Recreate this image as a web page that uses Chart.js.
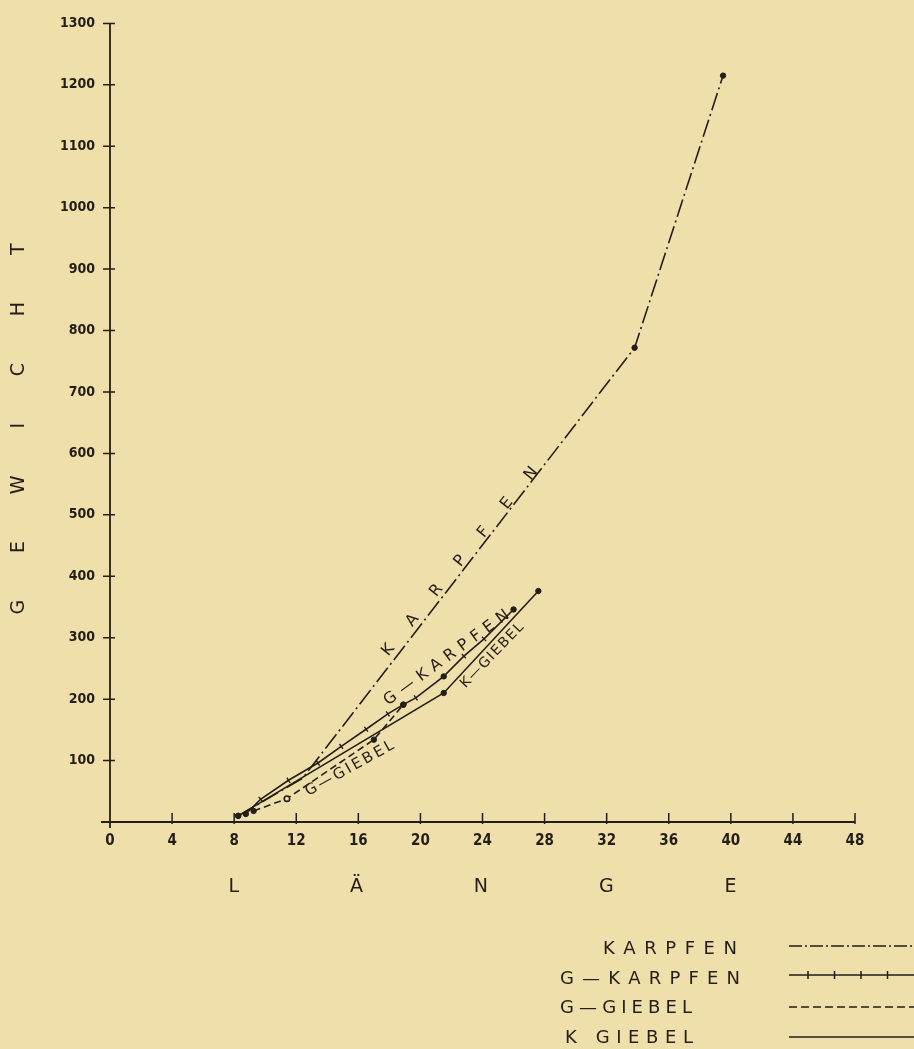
<!DOCTYPE html>
<html>
<head>
<meta charset="utf-8">
<script src="https://cdn.jsdelivr.net/npm/chart.js@4.4.1/dist/chart.umd.min.js"></script>
<style>
html,body{margin:0;padding:0;background:#efdfaa;}
#wrap{width:914px;height:1049px;position:relative;}
</style>
</head>
<body>
<div id="wrap"><canvas id="c" width="914" height="1049"></canvas></div>
<script>
// ---- data ----
const xTicks = [0, 4, 8, 12, 16, 20, 24, 28, 32, 36, 40, 44, 48];
const yTicks = [100, 200, 300, 400, 500, 600, 700, 800, 900, 1000, 1100, 1200, 1300];
const seriesNames = ['KARPFEN', 'G—KARPFEN', 'G—GIEBEL', 'K GIEBEL'];

const karpfenX = [8.26, 12.4, 33.8, 39.5];
const karpfenY = [10, 71, 772, 1215];

const gKarpfenX = [8.75, 9.7, 11.5, 13.4, 14.9, 16.5, 17.9, 18.9, 19.7, 21.5, 22.8, 24.1, 26.0];
const gKarpfenY = [13, 37, 68, 96, 123, 151, 176, 191, 202, 237, 270, 298, 346];

const gGiebelX = [9.25, 11.4, 17.0, 18.9];
const gGiebelY = [18, 38, 134, 191];

const kGiebelX = [8.26, 21.5, 27.6];
const kGiebelY = [10, 210, 376];

const xTitle = 'LÄNGE';
const yTitle = 'GEWICHT';

// ---- styling ----
const BG = '#efdfaa';
const INK = '#231e18';
const FONT = "'DejaVu Sans', sans-serif";
const NUMFONT = "'DejaVu Sans Condensed', 'DejaVu Sans', sans-serif";

const toPts = (xs, ys) => xs.map((x, i) => ({x: x, y: ys[i]}));
const gKarpfenDots = [0, 7, 9, 12];

function trackText(ctx, text, cx, cy, angleDeg, span, font) {
  ctx.save();
  ctx.font = font;
  ctx.translate(cx, cy);
  ctx.rotate(angleDeg * Math.PI / 180);
  const chars = Array.from(text);
  const ws = chars.map(ch => ctx.measureText(ch).width);
  const sum = ws.reduce((a, b) => a + b, 0);
  const W = span + (ws[0] + ws[ws.length - 1]) / 2;
  const s = chars.length > 1 ? (W - sum) / (chars.length - 1) : 0;
  let x = -W / 2;
  ctx.textAlign = 'left';
  ctx.textBaseline = 'middle';
  chars.forEach((ch, i) => { ctx.fillText(ch, x, 0); x += ws[i] + s; });
  ctx.restore();
}
function trackLeft(ctx, text, x1, x2, y, font) {
  ctx.save();
  ctx.font = font;
  const chars = Array.from(text);
  const ws = chars.map(ch => ctx.measureText(ch).width);
  const sum = ws.reduce((a, b) => a + b, 0);
  const s = (x2 - x1 - sum) / (chars.length - 1);
  let x = x1;
  ctx.textAlign = 'left';
  ctx.textBaseline = 'middle';
  chars.forEach((ch, i) => { ctx.fillText(ch, x, y); x += ws[i] + s; });
  ctx.restore();
}

// curve labels: centre in data units, angle/span in pixels
const curveLabels = [
  {text: 'KARPFEN',   x: 22.55, y: 424, angle: -51, span: 227, size: 16},
  {text: 'G—KARPFEN', x: 21.69, y: 267, angle: -36, span: 139, size: 16},
  {text: 'K—GIEBEL',  x: 24.63, y: 271, angle: -46, span: 76,  size: 14},
  {text: 'G—GIEBEL',  x: 15.44, y: 87,  angle: -29, span: 89,  size: 15}
];

const bgPlugin = {
  id: 'bg',
  beforeDraw(chart) {
    const c = chart.ctx;
    c.save(); c.fillStyle = BG; c.fillRect(0, 0, chart.width, chart.height); c.restore();
  }
};

const axesPlugin = {
  id: 'axesDraw',
  beforeDatasetsDraw(chart) {
    const {ctx} = chart; const xs = chart.scales.x, ys = chart.scales.y;
    const x0 = xs.getPixelForValue(0), y0 = ys.getPixelForValue(0);
    const yTop = ys.getPixelForValue(yTicks[yTicks.length - 1]);
    const xEnd = xs.getPixelForValue(xTicks[xTicks.length - 1]);
    ctx.save();
    ctx.strokeStyle = INK; ctx.lineWidth = 1.8;
    ctx.beginPath();
    ctx.moveTo(x0, y0 + 6); ctx.lineTo(x0, yTop);
    ctx.moveTo(x0 - 9, y0); ctx.lineTo(xEnd, y0);
    ctx.stroke();
    ctx.lineWidth = 1.5;
    ctx.beginPath();
    yTicks.forEach(v => { const py = ys.getPixelForValue(v); ctx.moveTo(x0 - 7, py); ctx.lineTo(x0 + 5, py); });
    xTicks.forEach(v => { if (v === 0) return; const px = xs.getPixelForValue(v); ctx.moveTo(px, y0 + 2); ctx.lineTo(px, y0 - 9); });
    ctx.stroke();
    ctx.restore();
  }
};

const decoPlugin = {
  id: 'deco',
  afterDatasetsDraw(chart) {
    const {ctx} = chart; const xs = chart.scales.x, ys = chart.scales.y;
    ctx.save();
    ctx.fillStyle = INK; ctx.strokeStyle = INK;
    const pts = chart.getDatasetMeta(1).data;
    ctx.lineWidth = 1.4;
    ctx.beginPath();
    pts.forEach((p, i) => {
      if (gKarpfenDots.includes(i)) return;
      const a = pts[Math.max(0, i - 1)], b = pts[Math.min(pts.length - 1, i + 1)];
      const dx = b.x - a.x, dy = b.y - a.y; const L = Math.hypot(dx, dy) || 1;
      const nx = -dy / L * 3, ny = dx / L * 3;
      ctx.moveTo(p.x - nx, p.y - ny); ctx.lineTo(p.x + nx, p.y + ny);
    });
    ctx.stroke();
    curveLabels.forEach(l => {
      trackText(ctx, l.text, xs.getPixelForValue(l.x), ys.getPixelForValue(l.y), l.angle, l.span, l.size + 'px ' + FONT);
    });
    ctx.restore();
  },
  afterDraw(chart) {
    const {ctx} = chart; const xs = chart.scales.x;
    ctx.save();
    ctx.fillStyle = INK; ctx.strokeStyle = INK;
    const p8 = xs.getPixelForValue(8), p40 = xs.getPixelForValue(40);
    trackText(ctx, xTitle, (p8 + p40) / 2, 887, 0, p40 - p8, '19px ' + FONT);
    trackText(ctx, yTitle, 19, 429, -90, 358, '19px ' + FONT);
    const rows = [
      {name: seriesNames[0], x1: 603, x2: 737, y: 949, ly: 946, style: 'dashdot'},
      {name: seriesNames[1], x1: 560, x2: 740, y: 979, ly: 975, style: 'ticks'},
      {name: seriesNames[2], x1: 560, x2: 692, y: 1008, ly: 1007, style: 'dash'},
      {name: seriesNames[3], x1: 565, x2: 693, y: 1038, ly: 1037, style: 'solid'}
    ];
    rows.forEach(r => {
      trackLeft(ctx, r.name, r.x1, r.x2, r.y, '18px ' + FONT);
      ctx.save();
      ctx.lineWidth = 1.7;
      if (r.style === 'dashdot') ctx.setLineDash([13, 3, 2, 3]);
      if (r.style === 'dash') ctx.setLineDash([8, 4]);
      ctx.beginPath(); ctx.moveTo(789, r.ly); ctx.lineTo(914, r.ly); ctx.stroke();
      if (r.style === 'ticks') {
        ctx.setLineDash([]); ctx.lineWidth = 1.5; ctx.beginPath();
        for (let tx = 808; tx < 914; tx += 26.5) { ctx.moveTo(tx, r.ly - 4); ctx.lineTo(tx, r.ly + 4); }
        ctx.stroke();
      }
      ctx.restore();
    });
    ctx.restore();
  }
};

const common = {
  showLine: true, fill: false, tension: 0,
  borderColor: INK, borderWidth: 1.6,
  pointBackgroundColor: INK, pointBorderColor: INK, pointBorderWidth: 1,
  pointHoverRadius: 0
};

new Chart(document.getElementById('c'), {
  type: 'scatter',
  data: {
    datasets: [
      Object.assign({}, common, {
        label: seriesNames[0], data: toPts(karpfenX, karpfenY),
        borderDash: [18, 4, 2, 4],
        pointRadius: ctx => ctx.dataIndex === 1 ? 0 : 2.7
      }),
      Object.assign({}, common, {
        label: seriesNames[1], data: toPts(gKarpfenX, gKarpfenY),
        pointRadius: ctx => gKarpfenDots.includes(ctx.dataIndex) ? 2.7 : 0
      }),
      Object.assign({}, common, {
        label: seriesNames[2], data: toPts(gGiebelX, gGiebelY),
        borderDash: [7, 4],
        pointRadius: 2.7,
        pointBackgroundColor: ctx => ctx.dataIndex === 1 ? BG : INK,
        pointBorderWidth: ctx => ctx.dataIndex === 1 ? 1.6 : 1
      }),
      Object.assign({}, common, {
        label: seriesNames[3], data: toPts(kGiebelX, kGiebelY),
        pointRadius: 2.7
      })
    ]
  },
  options: {
    responsive: false,
    devicePixelRatio: 1,
    animation: false,
    events: [],
    layout: {padding: {left: 0, right: 59, top: 18, bottom: 187}},
    plugins: {legend: {display: false}, tooltip: {enabled: false}, title: {display: false}},
    scales: {
      x: {
        type: 'linear', position: 'bottom',
        min: xTicks[0], max: xTicks[xTicks.length - 1],
        afterBuildTicks: s => { s.ticks = xTicks.map(v => ({value: v})); },
        afterFit: s => { s.height = 40; },
        grid: {display: false, drawTicks: false},
        border: {display: false},
        ticks: {color: INK, padding: 10, font: {family: NUMFONT, size: 15, weight: 'bold'}, maxRotation: 0, autoSkip: false,
                callback: v => String(v)}
      },
      y: {
        type: 'linear', position: 'left',
        min: 0, max: yTicks[yTicks.length - 1],
        afterBuildTicks: s => { s.ticks = yTicks.map(v => ({value: v})); },
        afterFit: s => { s.width = 110; },
        grid: {display: false, drawTicks: false},
        border: {display: false},
        ticks: {color: INK, padding: 15, font: {family: NUMFONT, size: 14, weight: 'bold'}, autoSkip: false,
                callback: v => String(v)}
      }
    }
  },
  plugins: [bgPlugin, axesPlugin, decoPlugin]
});
</script>
</body>
</html>
